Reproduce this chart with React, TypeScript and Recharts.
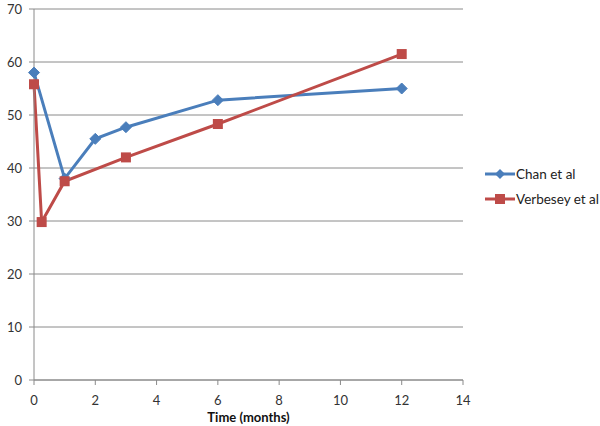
import React from "react";
import { LineChart, Line, XAxis, YAxis, CartesianGrid } from "recharts";

const chanX = [0, 1, 2, 3, 6, 12];
const chanY = [58, 38, 45.5, 47.7, 52.8, 55];
const verbX = [0, 0.25, 1, 3, 6, 12];
const verbY = [55.8, 29.8, 37.5, 42, 48.3, 61.5];
const xTicks = [0, 2, 4, 6, 8, 10, 12, 14];
const yTicks = [0, 10, 20, 30, 40, 50, 60, 70];

const BLUE = "#4A7EBB";
const RED = "#BE4B48";
const GRID = "#8a8a8a";
const FONT = "Lato, 'Open Sans', 'Liberation Sans', sans-serif";

const chanData = chanX.map((x, i) => ({ x, y: chanY[i] }));
const verbData = verbX.map((x, i) => ({ x, y: verbY[i] }));

const Diamond = (props: any) => {
  const { cx, cy } = props;
  if (cx == null || cy == null) return null;
  const r = 5.5;
  return (
    <path
      d={`M${cx},${cy - r}L${cx + r},${cy}L${cx},${cy + r}L${cx - r},${cy}Z`}
      fill={BLUE}
      stroke={BLUE}
    />
  );
};

const Square = (props: any) => {
  const { cx, cy } = props;
  if (cx == null || cy == null) return null;
  const s = 5;
  return <rect x={cx - s} y={cy - s} width={s * 2} height={s * 2} fill={RED} />;
};

const Legend = () => (
  <div
    style={{
      position: "absolute",
      left: 485,
      top: 161,
      fontFamily: FONT,
      fontSize: 13.5,
      color: "#222",
      whiteSpace: "nowrap",
    }}
  >
    <div style={{ display: "flex", alignItems: "center", height: 25 }}>
      <svg width={31} height={14}>
        <line x1={0} y1={7} x2={30} y2={7} stroke={BLUE} strokeWidth={3} />
        <path d="M15,2L20,7L15,12L10,7Z" fill={BLUE} />
      </svg>
      <span>Chan et al</span>
    </div>
    <div style={{ display: "flex", alignItems: "center", height: 25 }}>
      <svg width={31} height={14}>
        <line x1={0} y1={7} x2={30} y2={7} stroke={RED} strokeWidth={3} />
        <rect x={10} y={2} width={10} height={10} fill={RED} />
      </svg>
      <span>Verbesey et al</span>
    </div>
  </div>
);

export default function App() {
  return (
    <div style={{ position: "absolute", left: 0, top: 0, width: 600, height: 426, background: "#fff" }}>
      <LineChart width={600} height={426} margin={{ top: 9, right: 137, left: 0, bottom: 0 }}>
        <CartesianGrid stroke={GRID} vertical={false} />
        <XAxis
          type="number"
          dataKey="x"
          domain={[0, 14]}
          ticks={xTicks}
          stroke={GRID}
          tickSize={5}
          tickMargin={11}
          height={46}
          tick={{ fill: "#333", fontSize: 13, fontFamily: FONT }}
          label={{
            value: "Time (months)",
            position: "insideBottom",
            offset: 4,
            style: { fontWeight: "bold", fontSize: 13, fill: "#111", fontFamily: FONT },
          }}
          allowDuplicatedCategory={false}
        />
        <YAxis
          type="number"
          dataKey="y"
          domain={[0, 70]}
          ticks={yTicks}
          stroke={GRID}
          tickSize={5}
          tickMargin={7}
          width={34}
          tick={{ fill: "#333", fontSize: 13, fontFamily: FONT }}
        />
        <Line
          data={chanData}
          dataKey="y"
          stroke={BLUE}
          strokeWidth={3}
          dot={<Diamond />}
          activeDot={false}
          isAnimationActive={false}
        />
        <Line
          data={verbData}
          dataKey="y"
          stroke={RED}
          strokeWidth={3}
          dot={<Square />}
          activeDot={false}
          isAnimationActive={false}
        />
      </LineChart>
      <Legend />
    </div>
  );
}
